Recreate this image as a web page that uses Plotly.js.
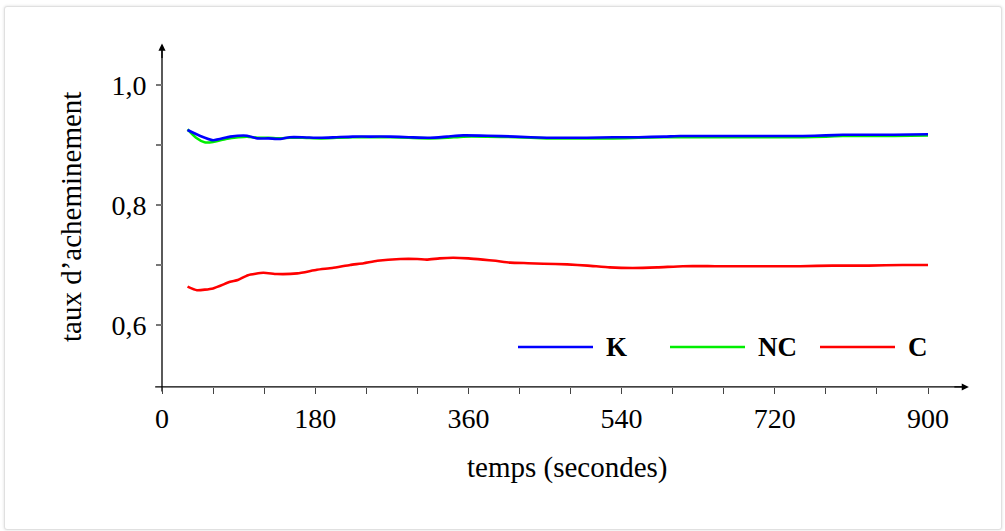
<!DOCTYPE html>
<html>
<head>
<meta charset="utf-8">
<script src="https://cdn.plot.ly/plotly-3.0.1.min.js"></script>
<style>
  html, body { margin: 0; padding: 0; background: #ffffff; }
  #frame { position: absolute; left: 4px; top: 6px; width: 996px; height: 522px;
           border: 1px solid #e0e0e0; border-radius: 3px; box-shadow: 0 0 3px rgba(0,0,0,0.14); background: #fff; }
  #chart { position: absolute; left: 0; top: 0; width: 1005px; height: 531px; }
</style>
</head>
<body>
<div id="frame"></div>
<div id="chart"></div>
<script>
// ---- data ----
const seriesNames = ["K", "NC", "C"];
const seriesColors = ["#0000ff", "#00ee00", "#ff0000"];

const timeK = [30, 45, 60, 80, 100, 112, 125, 139, 150, 165, 186, 205, 224, 245, 268, 290, 315, 335, 354, 382, 415, 452, 475, 499, 530, 560, 590, 609, 640, 680, 720, 753, 780, 800, 830, 860, 900];
const valK  = [0.925, 0.915, 0.908, 0.914, 0.9155, 0.911, 0.911, 0.910, 0.913, 0.913, 0.912, 0.913, 0.914, 0.914, 0.914, 0.913, 0.912, 0.914, 0.916, 0.9155, 0.914, 0.912, 0.912, 0.912, 0.913, 0.913, 0.914, 0.915, 0.915, 0.915, 0.915, 0.915, 0.916, 0.917, 0.917, 0.917, 0.918];

const timeNC = [30, 40, 50, 60, 75, 90, 100, 112, 125, 139, 150, 165, 186, 205, 224, 245, 268, 290, 315, 335, 354, 382, 415, 452, 475, 499, 530, 560, 590, 609, 640, 680, 720, 753, 780, 800, 830, 860, 900];
const valNC  = [0.926, 0.912, 0.9045, 0.905, 0.910, 0.913, 0.914, 0.912, 0.912, 0.911, 0.912, 0.912, 0.911, 0.912, 0.913, 0.913, 0.913, 0.912, 0.911, 0.912, 0.914, 0.914, 0.913, 0.911, 0.911, 0.911, 0.911, 0.912, 0.913, 0.913, 0.913, 0.913, 0.913, 0.913, 0.914, 0.915, 0.915, 0.915, 0.916];

const timeC = [30, 41, 60, 80, 89, 101, 119, 135, 159, 182, 200, 221, 237, 253, 280, 300, 311, 326, 342, 360, 377, 392, 409, 430, 448, 476, 500, 526, 553, 582, 612, 650, 700, 750, 788, 830, 870, 900];
const valC  = [0.664, 0.658, 0.661, 0.672, 0.675, 0.683, 0.687, 0.685, 0.686, 0.692, 0.695, 0.700, 0.703, 0.707, 0.710, 0.710, 0.709, 0.711, 0.712, 0.711, 0.709, 0.707, 0.704, 0.703, 0.702, 0.701, 0.699, 0.696, 0.695, 0.696, 0.698, 0.698, 0.698, 0.698, 0.699, 0.699, 0.700, 0.700];

const xTickVals = [0, 60, 120, 180, 240, 300, 360, 420, 480, 540, 600, 660, 720, 780, 840, 900];
const xTickText = ["0", "", "", "180", "", "", "360", "", "", "540", "", "", "720", "", "", "900"];
const yTickVals = [0.6, 0.7, 0.8, 0.9, 1.0];
const yTickText = ["0,6", "", "0,8", "", "1,0"];

const xTitle = "temps (secondes)";
const yTitle = "taux d\u2019acheminement";

// ---- layout geometry ----
const W = 1005, H = 531;
const mL = 150, mR = 30, mT = 40, mB = 136;
const xRange = [-14.1, 955.2];
const yRange = [0.4833, 1.075];
const xAxisY = 0.4967;
const plotW = W - mL - mR, plotH = H - mT - mB;
const px2paperX = p => (p - mL) / plotW;
const px2paperY = p => (H - mB - p) / plotH;

const font = "'Liberation Serif', 'Times New Roman', serif";

const traces = [
  {x: timeK, y: valK, name: seriesNames[0]},
  {x: timeNC, y: valNC, name: seriesNames[1]},
  {x: timeC, y: valC, name: seriesNames[2]}
].map((t, i) => ({
  x: t.x, y: t.y, name: t.name, type: "scatter", mode: "lines",
  line: {color: seriesColors[i], width: 2.6, shape: "spline", smoothing: 0.5},
  showlegend: false, hoverinfo: "skip"
}));
// draw green under blue
const ordered = [traces[1], traces[0], traces[2]];

// custom legend (lines longer than plotly's built-in symbol)
const legendPos = [
  {x0: 518, x1: 593, tx: 604},
  {x0: 670, x1: 745, tx: 756},
  {x0: 820, x1: 895, tx: 906}
];
const legendY = 347;

const shapes = [
  {type: "line", xref: "x", yref: "y", x0: -8, x1: 940, y0: xAxisY, y1: xAxisY, line: {color: "#000", width: 1.3}, layer: "below"},
  {type: "line", xref: "x", yref: "y", x0: 0, x1: 0, y0: 0.489, y1: 1.058, line: {color: "#000", width: 1.3}, layer: "below"}
];
const annotations = [
  {xref: "x", yref: "y", x: 948, y: xAxisY, ax: -16, ay: 0, text: "", showarrow: true, arrowhead: 2, arrowsize: 1.1, arrowwidth: 1.3, arrowcolor: "#000"},
  {xref: "x", yref: "y", x: 0, y: 1.069, ax: 0, ay: 16, text: "", showarrow: true, arrowhead: 2, arrowsize: 1.1, arrowwidth: 1.3, arrowcolor: "#000"}
];
legendPos.forEach((p, i) => {
  shapes.push({type: "line", xref: "paper", yref: "paper",
    x0: px2paperX(p.x0), x1: px2paperX(p.x1), y0: px2paperY(legendY), y1: px2paperY(legendY),
    line: {color: seriesColors[i], width: 2.6}});
  annotations.push({xref: "paper", yref: "paper", x: px2paperX(p.tx), y: px2paperY(legendY),
    xanchor: "left", yanchor: "middle", showarrow: false,
    text: "<b>" + seriesNames[i] + "</b>", font: {family: font, size: 27, color: "#000"}});
});
annotations.push({xref: "paper", yref: "paper", x: px2paperX(567), y: px2paperY(467), xanchor: "center", yanchor: "middle",
  showarrow: false, text: xTitle, font: {family: font, size: 29, color: "#000"}});
annotations.push({xref: "paper", yref: "paper", x: px2paperX(71), y: px2paperY(217), xanchor: "center", yanchor: "middle",
  showarrow: false, textangle: -90, text: yTitle, font: {family: font, size: 29, color: "#000"}});

const layout = {
  width: W, height: H,
  margin: {l: mL, r: mR, t: mT, b: mB, pad: 0},
  paper_bgcolor: "rgba(0,0,0,0)", plot_bgcolor: "rgba(0,0,0,0)",
  showlegend: false,
  font: {family: font, size: 28, color: "#000"},
  xaxis: {
    range: xRange, showgrid: false, zeroline: false, showline: false,
    anchor: "free", position: (xAxisY - yRange[0]) / (yRange[1] - yRange[0]),
    tickmode: "array", tickvals: xTickVals, ticktext: xTickText,
    ticks: "outside", ticklen: 6, tickwidth: 1, tickcolor: "#444",
    tickfont: {family: font, size: 28, color: "#000"}, ticklabelstandoff: 0,
    fixedrange: true
  },
  yaxis: {
    range: yRange, showgrid: false, zeroline: false, showline: false,
    anchor: "free", position: (0 - xRange[0]) / (xRange[1] - xRange[0]),
    tickmode: "array", tickvals: yTickVals, ticktext: yTickText,
    ticks: "outside", ticklen: 6, tickwidth: 1.2, tickcolor: "#777",
    tickfont: {family: font, size: 28, color: "#000"}, ticklabelstandoff: 4,
    fixedrange: true
  },
  shapes: shapes,
  annotations: annotations
};

Plotly.newPlot("chart", ordered, layout, {staticPlot: true, displayModeBar: false});
</script>
</body>
</html>
